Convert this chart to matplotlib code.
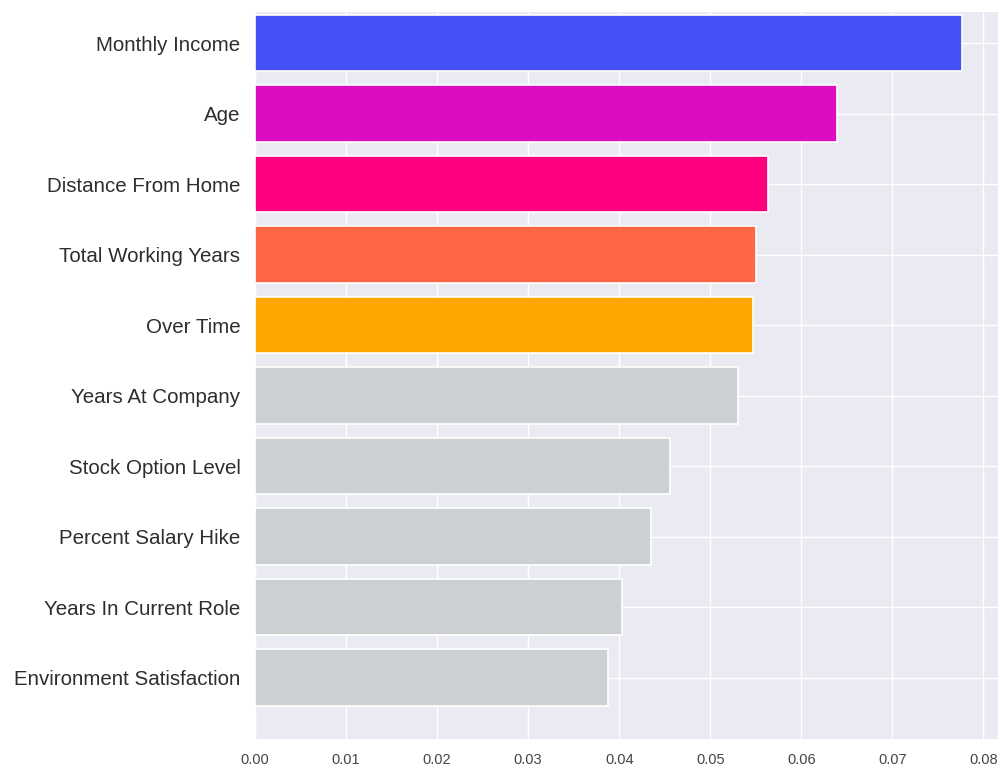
import matplotlib
matplotlib.use("Agg")
import matplotlib.pyplot as plt
import seaborn as sns

features = ["Monthly Income", "Age", "Distance From Home", "Total Working Years",
            "Over Time", "Years At Company", "Stock Option Level",
            "Percent Salary Hike", "Years In Current Role", "Environment Satisfaction"]
importance = [0.07766, 0.0639, 0.05634, 0.05498, 0.05465, 0.0531, 0.04553,
              0.04348, 0.04026, 0.03879]
colors = ["#4351F6", "#DD0CC0", "#FF0080", "#FF6646", "#FFA600",
          "#CDD0D3", "#CDD0D3", "#CDD0D3", "#CDD0D3", "#CDD0D3"]
xticks = [0.00, 0.01, 0.02, 0.03, 0.04, 0.05, 0.06, 0.07, 0.08]

sns.set_style("darkgrid")
plt.rcParams["font.family"] = ["Liberation Sans", "DejaVu Sans"]

fig = plt.figure(figsize=(10, 7.69), dpi=100)
ax = fig.add_axes([0.255, 0.039, 0.743, 0.9454])

ypos = list(range(len(features)))
ax.barh(ypos, importance, height=0.8, color=colors, edgecolor="white", linewidth=1.2)
ax.set_yticks(ypos)
ax.set_yticklabels(features, fontsize=14.8, color="#2e2e2e")
ax.set_xticks(xticks)
ax.set_xticklabels([f"{v:.2f}" for v in xticks], fontsize=10.5, color="#444444")
ax.set_xlim(0, 0.0816)
ax.set_ylim(9.87, -0.44)
ax.tick_params(axis="y", length=0, pad=10.5)
ax.tick_params(axis="x", length=0, pad=10)
ax.grid(True, color="white", linewidth=1.0)
ax.set_axisbelow(True)
for s in ax.spines.values():
    s.set_visible(False)

fig.savefig("out.png", dpi=100)
